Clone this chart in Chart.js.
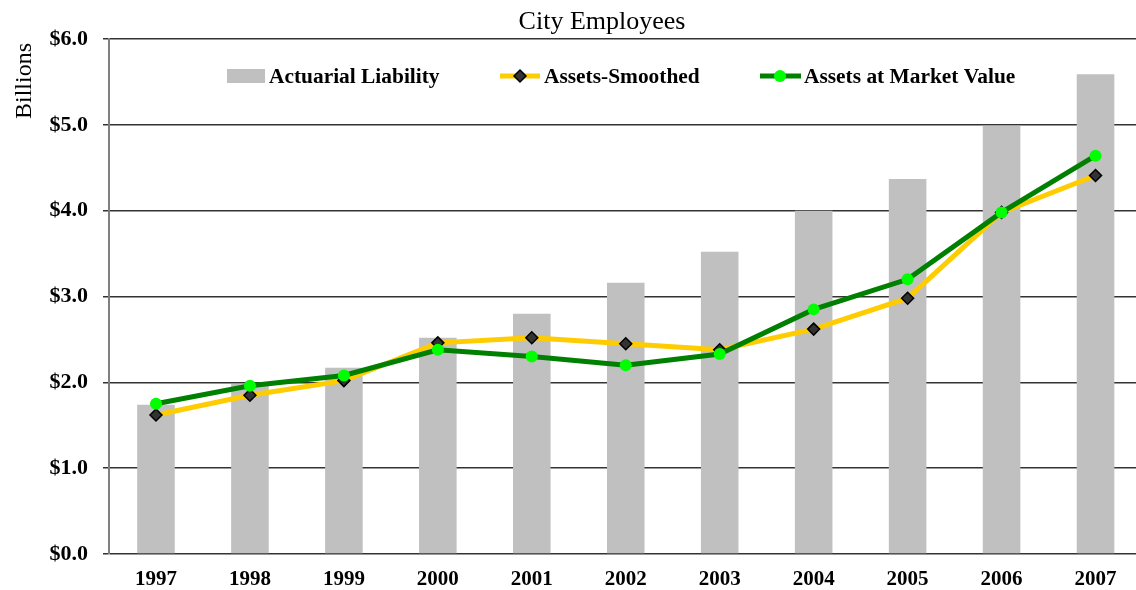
<!DOCTYPE html>
<html>
<head>
<meta charset="utf-8">
<script src="https://cdn.jsdelivr.net/npm/chart.js@4.4.1/dist/chart.umd.min.js"></script>
<style>
  html, body { margin: 0; padding: 0; background: #fff; overflow: hidden; }
  #wrap { width: 1136px; height: 590px; overflow: hidden; }
</style>
</head>
<body>
<div id="wrap"><canvas id="cityChart" width="1150" height="590"></canvas></div>
<script>
// Chart values (billions of dollars)
const years = ['1997', '1998', '1999', '2000', '2001', '2002', '2003', '2004', '2005', '2006', '2007'];
const actuarialLiability = [1.74, 1.98, 2.17, 2.52, 2.80, 3.16, 3.52, 4.00, 4.37, 4.99, 5.59];
const assetsSmoothed = [1.62, 1.85, 2.02, 2.46, 2.52, 2.45, 2.38, 2.62, 2.98, 3.98, 4.41];
const assetsMarket = [1.75, 1.96, 2.08, 2.38, 2.30, 2.20, 2.33, 2.85, 3.20, 3.98, 4.64];

const serif = '"Liberation Serif", "Times New Roman", serif';

// Title, axis caption and legend drawn by hand so they sit where the original has them
const decorPlugin = {
    id: 'decor',
    afterDraw(chart) {
        const c = chart.ctx;
        c.save();
        c.fillStyle = '#000';

        // title
        c.font = '26px ' + serif;
        c.textAlign = 'center';
        c.textBaseline = 'alphabetic';
        c.fillText('City Employees', 602, 29);

        // rotated axis caption
        c.save();
        c.translate(31, 81);
        c.rotate(-Math.PI / 2);
        c.font = '24px ' + serif;
        c.textAlign = 'center';
        c.textBaseline = 'alphabetic';
        c.fillText('Billions', 0, 0);
        c.restore();

        // legend
        const y = 76;
        c.font = 'bold 21.4px ' + serif;
        c.textAlign = 'left';
        c.textBaseline = 'middle';

        c.fillStyle = '#C0C0C0';
        c.fillRect(227, 69, 38, 14);
        c.fillStyle = '#000';
        c.fillText('Actuarial Liability', 269, y + 1);

        c.strokeStyle = '#FFCC00';
        c.lineWidth = 5;
        c.beginPath();
        c.moveTo(500, y);
        c.lineTo(540, y);
        c.stroke();
        c.beginPath();
        c.moveTo(520, y - 6);
        c.lineTo(526, y);
        c.lineTo(520, y + 6);
        c.lineTo(514, y);
        c.closePath();
        c.fillStyle = '#333333';
        c.fill();
        c.lineWidth = 1.5;
        c.strokeStyle = '#000';
        c.stroke();
        c.fillStyle = '#000';
        c.fillText('Assets-Smoothed', 544, y + 1);

        c.strokeStyle = '#008000';
        c.lineWidth = 5;
        c.beginPath();
        c.moveTo(760, y);
        c.lineTo(801, y);
        c.stroke();
        c.beginPath();
        c.arc(780, y, 6, 0, Math.PI * 2);
        c.fillStyle = '#00FF00';
        c.fill();
        c.fillStyle = '#000';
        c.fillText('Assets at Market Value', 804, y + 1);

        c.restore();
    }
};

new Chart(document.getElementById('cityChart'), {
    type: 'bar',
    data: {
        labels: years,
        datasets: [
            {
                type: 'line',
                label: 'Assets at Market Value',
                data: assetsMarket,
                borderColor: '#008000',
                borderWidth: 5,
                pointStyle: 'circle',
                pointRadius: 6,
                pointBackgroundColor: '#00FF00',
                pointBorderWidth: 0,
                tension: 0,
                order: 1
            },
            {
                type: 'line',
                label: 'Assets-Smoothed',
                data: assetsSmoothed,
                borderColor: '#FFCC00',
                borderWidth: 5,
                pointStyle: 'rectRot',
                pointRadius: 6,
                pointBackgroundColor: '#333333',
                pointBorderColor: '#000000',
                pointBorderWidth: 1.5,
                tension: 0,
                order: 2
            },
            {
                label: 'Actuarial Liability',
                data: actuarialLiability,
                backgroundColor: '#C0C0C0',
                borderWidth: 0,
                barPercentage: 0.4,
                categoryPercentage: 1,
                order: 3
            }
        ]
    },
    options: {
        responsive: false,
        animation: false,
        layout: {
            padding: { top: 39, right: 4, left: 0, bottom: 0 }
        },
        plugins: {
            legend: { display: false },
            title: { display: false },
            tooltip: { enabled: false }
        },
        scales: {
            x: {
                grid: { display: false, drawTicks: false },
                border: { display: false },
                ticks: {
                    color: '#000',
                    padding: 13,
                    font: { family: serif, size: 21, weight: 'bold' }
                },
                afterFit(scale) {
                    scale.height = 36;
                }
            },
            y: {
                min: 0,
                max: 6,
                ticks: {
                    stepSize: 1,
                    color: '#000',
                    padding: 15,
                    font: { family: serif, size: 22, weight: 'bold' },
                    callback: function(v) {
                        return '$' + Number(v).toFixed(1);
                    }
                },
                grid: {
                    color: '#333333',
                    lineWidth: 1.5,
                    tickLength: 6
                },
                border: {
                    color: '#808080',
                    width: 2
                },
                afterFit(scale) {
                    scale.width = 109;
                }
            }
        }
    },
    plugins: [decorPlugin]
});
</script>
</body>
</html>
